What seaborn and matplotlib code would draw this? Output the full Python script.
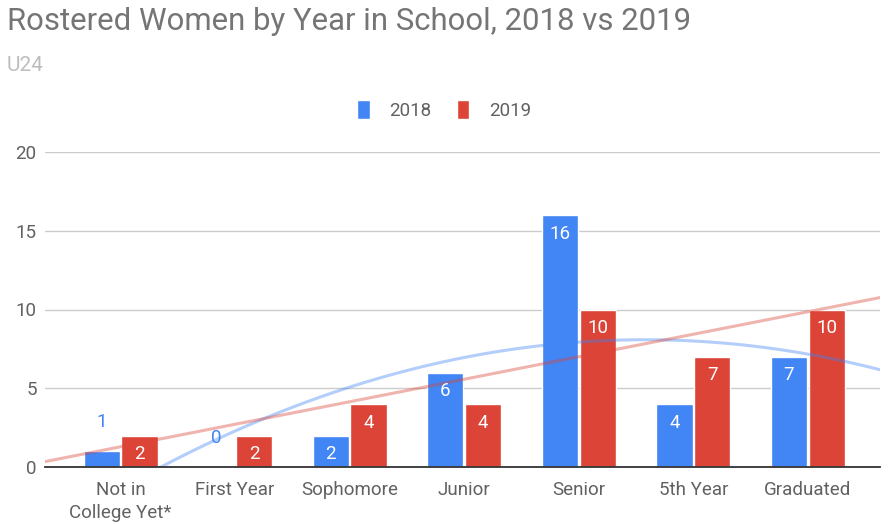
import matplotlib
matplotlib.use("Agg")
import matplotlib.pyplot as plt
import seaborn as sns
import pandas as pd
import numpy as np
from matplotlib.patches import Patch

# chart data
categories = ["Not in\nCollege Yet*", "First Year", "Sophomore", "Junior", "Senior", "5th Year", "Graduated"]
years = ["2018", "2019"]
counts_2018 = [1, 0, 2, 6, 16, 4, 7]
counts_2019 = [2, 2, 4, 4, 10, 7, 10]
y_ticks = [0, 5, 10, 15, 20]

blue = "#4285F4"
red = "#DB4437"

df = pd.DataFrame({
    "category": categories * 2,
    "year": [years[0]] * len(categories) + [years[1]] * len(categories),
    "count": counts_2018 + counts_2019,
})

sns.set_style("white")
plt.rcParams["font.family"] = ["Roboto", "DejaVu Sans"]

fig = plt.figure(figsize=(8.88, 5.24), dpi=100)
ax = fig.add_axes([45 / 888, 1 - 467 / 524, 835 / 888, 315 / 524])

sns.barplot(data=df, x="category", y="count", hue="year", order=categories,
            hue_order=years, palette=[blue, red], saturation=1, width=0.66, gap=0.04,
            legend=False, ax=ax, zorder=2)

ax.set_xlim(-0.66, 6.63)
ax.set_ylim(0, 20)

# trendlines: polynomial (2018) and linear (2019)
xpos = np.arange(len(categories))
sns.regplot(x=xpos, y=np.array(counts_2018, dtype=float), order=2, ci=None,
            scatter=False, truncate=False, ax=ax,
            line_kws={"color": blue, "alpha": 0.4, "lw": 2.2, "zorder": 3})
sns.regplot(x=xpos, y=np.array(counts_2019, dtype=float), order=1, ci=None,
            scatter=False, truncate=False, ax=ax,
            line_kws={"color": red, "alpha": 0.4, "lw": 2.2, "zorder": 3})
ax.set_xlim(-0.66, 6.63)
ax.set_ylim(0, 20)

# data labels
for cont, color in zip(ax.containers, [blue, red]):
    for bar in cont:
        h = bar.get_height()
        cx = bar.get_x() + bar.get_width() / 2
        if h >= 1.5:
            ax.annotate(f"{int(h)}", (cx, h), xytext=(0, -13.5), textcoords="offset points",
                        ha="center", va="center", color="white", fontsize=13.5, zorder=5)
        else:
            ax.annotate(f"{int(h)}", (cx, h), xytext=(0, 21), textcoords="offset points",
                        ha="center", va="center", color=color, fontsize=13.5, zorder=5)

ax.set_yticks(y_ticks)
ax.grid(axis="y", color="#cccccc", lw=1, zorder=0)
ax.set_axisbelow(True)
for s in ["top", "right", "left"]:
    ax.spines[s].set_visible(False)
ax.spines["bottom"].set_color("#333333")
ax.spines["bottom"].set_linewidth(1.3)
ax.spines["bottom"].set_zorder(4)
ax.tick_params(axis="both", length=0, labelsize=13.5, labelcolor="#616161")
ax.tick_params(axis="x", pad=10)
ax.tick_params(axis="y", pad=6)
for lbl in ax.get_xticklabels():
    lbl.set_linespacing(1.35)
ax.set_xlabel("")
ax.set_ylabel("")

fig.text(7 / 888, 1 - 22 / 524, "Rostered Women by Year in School, 2018 vs 2019",
         fontsize=22.4, color="#757575", ha="left", va="center")
fig.text(7 / 888, 1 - 66 / 524, "U24", fontsize=15, color="#BDBDBD", ha="left", va="center")

# legend
handles = [Patch(facecolor=blue, label="2018"), Patch(facecolor=red, label="2019")]
fig.legend(handles=handles, loc="center", bbox_to_anchor=(444 / 888, 1 - 110 / 524),
           ncol=2, frameon=False, fontsize=13.5, handlelength=0.68, handleheight=1.15,
           handletextpad=1.05, columnspacing=1.35, labelcolor="#616161")

fig.savefig("out.png", dpi=100)
